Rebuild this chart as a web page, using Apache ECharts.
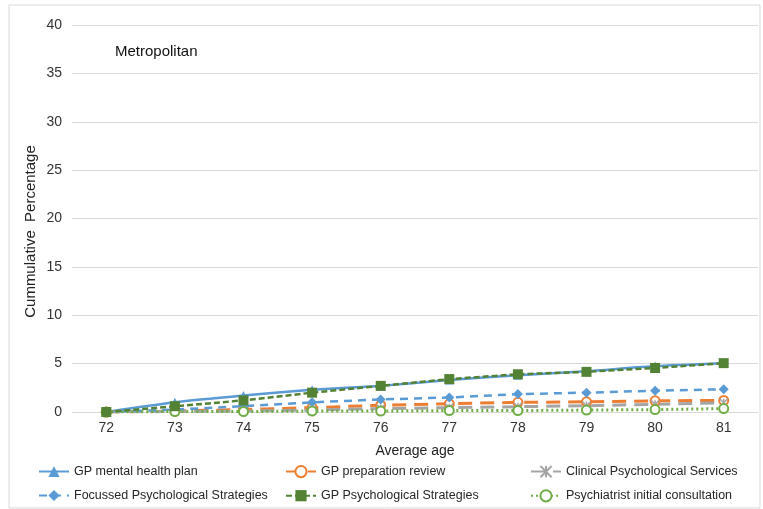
<!DOCTYPE html>
<html>
<head>
<meta charset="utf-8">
<script src="https://cdn.jsdelivr.net/npm/echarts@6/dist/echarts.min.js"></script>
<style>
  html, body { margin: 0; padding: 0; background: #fff; }
  #chart { width: 763px; height: 509px; }
</style>
</head>
<body>
<div id="chart"></div>
<script>
var ages = ['72', '73', '74', '75', '76', '77', '78', '79', '80', '81'];
// cumulative percentages
var gpMentalHealthPlan = [0, 1.0, 1.7, 2.3, 2.7, 3.3, 3.8, 4.2, 4.75, 5.05];
var gpPreparationReview = [0, 0.1, 0.25, 0.45, 0.7, 0.85, 1.0, 1.05, 1.15, 1.2];
var clinicalPsychServices = [0, 0.05, 0.1, 0.2, 0.35, 0.45, 0.55, 0.65, 0.8, 0.95];
var focussedPsychStrategies = [0, 0.25, 0.6, 1.0, 1.3, 1.5, 1.85, 2.0, 2.2, 2.35];
var gpPsychStrategies = [0, 0.6, 1.2, 2.0, 2.7, 3.4, 3.9, 4.15, 4.55, 5.05];
var psychiatristInitial = [0, 0.05, 0.05, 0.1, 0.1, 0.15, 0.15, 0.2, 0.25, 0.35];

var names = ['GP mental health plan', 'GP preparation review', 'Clinical Psychological Services',
  'Focussed Psychological Strategies', 'GP Psychological Strategies', 'Psychiatrist initial consultation'];

var chart = echarts.init(document.getElementById('chart'));
var font = '"Liberation Sans", Arial, sans-serif';

function legendCol(left, items) {
  return {
    orient: 'vertical', left: left, top: 465, padding: 0, itemGap: 11,
    itemWidth: 30, itemHeight: 14,
    textStyle: { fontFamily: font, fontSize: 12.5, color: '#262626' },
    data: items
  };
}

var option = {
  animation: false,
  textStyle: { fontFamily: font },
  graphic: [
    { type: 'rect', shape: { x: 9, y: 5, width: 751, height: 503 },
      style: { fill: 'none', stroke: '#d9d9d9', lineWidth: 1 }, silent: true },
    { type: 'text', left: 115, top: 44,
      style: { text: 'Metropolitan', font: '15px ' + font, fill: '#111' } }
  ],
  legend: [
    legendCol(38, [names[0], names[3]]),
    legendCol(285, [names[1], names[4]]),
    legendCol(530, [names[2], names[5]])
  ],
  grid: { left: 72, right: 5, top: 25, bottom: 97 },
  xAxis: {
    type: 'category', data: ages, boundaryGap: true,
    name: 'Average age', nameLocation: 'middle', nameGap: 32, nameMoveOverlap: false,
    nameTextStyle: { fontSize: 14, color: '#222' },
    axisLine: { lineStyle: { color: '#d9d9d9' } },
    axisTick: { show: false },
    axisLabel: { fontSize: 14, color: '#333', margin: 9 }
  },
  yAxis: {
    type: 'value', min: 0, max: 40, interval: 5,
    name: 'Cummulative  Percentage', nameLocation: 'middle', nameGap: 34, nameMoveOverlap: false,
    nameTextStyle: { fontSize: 15, color: '#222', padding: [0, 26, 0, 0] },
    axisLine: { show: false }, axisTick: { show: false },
    axisLabel: { fontSize: 14, color: '#333', margin: 10 },
    splitLine: { lineStyle: { color: '#d9d9d9' } }
  },
  series: [
    { name: names[0], type: 'line', data: gpMentalHealthPlan, smooth: 0.2,
      symbol: 'triangle', symbolSize: 9, color: '#5b9bd5',
      lineStyle: { width: 2.5 } },
    { name: names[1], type: 'line', data: gpPreparationReview,
      symbol: 'emptyCircle', symbolSize: 9, color: '#ed7d31',
      itemStyle: { borderWidth: 1.2 },
      lineStyle: { width: 3, type: [14, 8] } },
    { name: names[2], type: 'line', data: clinicalPsychServices,
      symbol: 'path://M0,0L10,10M10,0L0,10M5,0L5,10', symbolSize: 8, color: '#a5a5a5',
      itemStyle: { borderColor: '#a5a5a5', borderWidth: 1.5 },
      lineStyle: { width: 3, type: [14, 8] } },
    { name: names[3], type: 'line', data: focussedPsychStrategies,
      symbol: 'diamond', symbolSize: 10, color: '#5b9bd5',
      lineStyle: { width: 2.5, type: [8, 6] } },
    { name: names[5], type: 'line', data: psychiatristInitial,
      symbol: 'emptyCircle', symbolSize: 9, color: '#70ad47',
      itemStyle: { borderWidth: 1.2 },
      lineStyle: { width: 3, type: [2, 3] } },
    { name: names[4], type: 'line', data: gpPsychStrategies,
      symbol: 'rect', symbolSize: 10, color: '#548235',
      lineStyle: { width: 2.5, type: [6, 3] } }
  ]
};
chart.setOption(option);
</script>
</body>
</html>
